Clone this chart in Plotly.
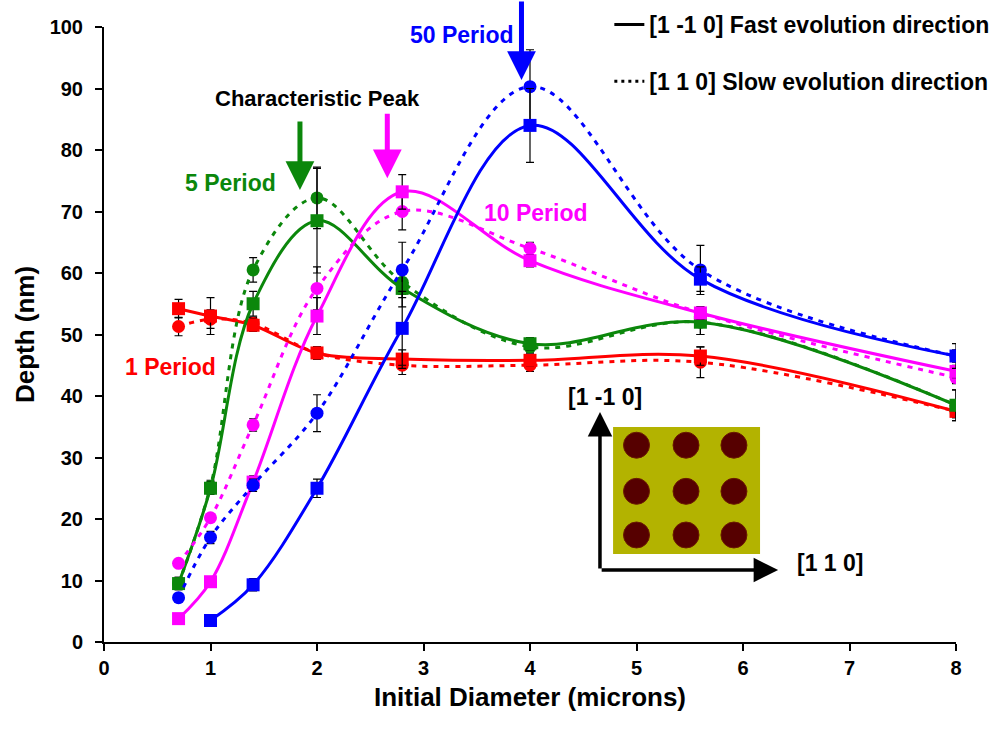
import plotly.graph_objects as go

diam = [0.7, 1.0, 1.4, 2.0, 2.8, 4.0, 5.6, 8.0]
diam_b = [1.0, 1.4, 2.0, 2.8, 4.0, 5.6, 8.0]

p1_fast = [54.2, 53.0, 51.5, 47.0, 46.0, 45.8, 46.5, 37.5]
p1_fast_err = [1.5, 3.0, 1.0, 1.0, 1.5, 1.0, 1.5, 1.0]
p1_slow = [51.3, 52.5, 51.8, 47.0, 45.0, 45.0, 45.5, 37.5]
p1_slow_err = [1.5, 1.5, 1.0, 1.0, 1.5, 1.0, 2.5, 1.0]

p5_fast = [9.5, 25.0, 55.0, 68.5, 57.5, 48.5, 52.0, 38.5]
p5_fast_err = [1.0, 1.0, 2.0, 8.5, 3.0, 1.0, 2.0, 2.5]
p5_slow = [9.5, 25.3, 60.5, 72.2, 58.5, 48.0, 52.0, 38.5]
p5_slow_err = [1.0, 1.0, 2.0, 5.0, 2.0, 1.0, 2.0, 2.5]

p10_fast = [3.8, 9.8, 26.0, 53.0, 73.2, 62.0, 53.5, 44.0]
p10_fast_err = [0.5, 0.5, 1.0, 3.0, 2.8, 1.0, 1.0, 1.0]
p10_slow = [12.8, 20.2, 35.3, 57.5, 70.0, 64.0, 53.5, 43.0]
p10_slow_err = [0.5, 0.5, 1.0, 3.5, 3.0, 1.0, 1.0, 1.0]

p50_fast = [3.5, 9.3, 25.0, 51.0, 84.0, 59.0, 46.5]
p50_fast_err = [0.5, 1.0, 1.5, 6.0, 6.0, 2.0, 1.0]
p50_slow = [7.2, 17.0, 25.5, 37.2, 60.5, 90.3, 60.5, 46.5]
p50_slow_err = [0.5, 1.0, 1.0, 3.0, 4.5, 6.0, 4.0, 2.0]

RED, GREEN, MAG, BLUE = "#ff0000", "#0b870b", "#ff00ff", "#0000ff"
FONT = "Liberation Sans, Arial, sans-serif"

fig = go.Figure()

def add(x, y, err, color, fast):
    fig.add_trace(go.Scatter(
        x=x, y=y, mode="lines+markers",
        line=dict(color=color, width=3, shape="spline", smoothing=1,
                  dash="solid" if fast else "5px,6px"),
        marker=dict(symbol="square" if fast else "circle", size=13, color=color),
        error_y=dict(type="data", array=err, color="black", thickness=1.2, width=4),
        showlegend=False))

add(diam, p1_slow, p1_slow_err, RED, False)
add(diam, p1_fast, p1_fast_err, RED, True)
add(diam, p5_slow, p5_slow_err, GREEN, False)
add(diam, p5_fast, p5_fast_err, GREEN, True)
add(diam, p10_slow, p10_slow_err, MAG, False)
add(diam, p10_fast, p10_fast_err, MAG, True)
add(diam, p50_slow, p50_slow_err, BLUE, False)
add(diam_b, p50_fast, p50_fast_err, BLUE, True)

fig.add_trace(go.Scatter(x=[None], y=[None], mode="lines", line=dict(color="black", width=3),
                         name="<b>[1 -1 0] Fast evolution direction</b>", legendgroup="a"))
fig.add_trace(go.Scatter(x=[None], y=[None], mode="lines", line=dict(color="black", width=3, dash="3px,4px"),
                         name="<b>[1 1 0] Slow evolution direction</b>", legendgroup="b"))

def txt(x, y, s, color, size=23, yref="y"):
    fig.add_annotation(x=x, y=y, yref=yref, text="<b>%s</b>" % s, showarrow=False,
                       font=dict(family=FONT, size=size, color=color))

txt(2.0, 88.3, "Characteristic Peak", "black", 22)
txt(1.19, 74.6, "5 Period", GREEN)
txt(4.06, 69.8, "10 Period", MAG)
txt(0.62, 44.7, "1 Period", RED)
txt(3.36, 1.0114, "50 Period", BLUE, 23, "paper")
txt(4.70, 39.8, "[1 -1 0]", "black")
txt(6.82, 12.8, "[1 1 0]", "black")

def arrow(x, y, ax, ay, color, w=5, s=1.15):
    fig.add_annotation(x=x, y=y, ax=ax, ay=ay, text="", showarrow=True,
                       arrowhead=2, arrowwidth=w, arrowsize=s, arrowcolor=color)

arrow(1.84, 73.5, 0, -70, GREEN)
arrow(2.66, 75.4, 0, -66, MAG)
arrow(3.92, 91.4, 0, -82, BLUE)
arrow(4.657, 37.4, 0, 158, "black", 3.5, 1.4)
arrow(6.33, 11.7, -178, 0, "black", 3.5, 1.4)

# inset: substrate with holes
fig.add_shape(type="rect", x0=4.78, x1=6.16, y0=14.3, y1=34.96, fillcolor="#b3b300",
              line=dict(width=0), layer="above")
rx, ry = 0.122, 2.11
for cx in [5.0, 5.465, 5.915]:
    for cy in [32.0, 24.5, 17.4]:
        fig.add_shape(type="circle", x0=cx - rx, x1=cx + rx, y0=cy - ry, y1=cy + ry,
                      fillcolor="#560000", line=dict(color="#6a1a00", width=1), layer="above")

fig.update_layout(
    width=995, height=736, plot_bgcolor="white", paper_bgcolor="white",
    margin=dict(l=104, r=39, t=27, b=94, autoexpand=False),
    font=dict(family=FONT, color="black"),
    legend=dict(x=1.045, xanchor="right", y=1.039, yanchor="top", bgcolor="rgba(0,0,0,0)",
                font=dict(family=FONT, size=23, color="black"), tracegroupgap=24,
                traceorder="grouped", itemwidth=30),
)

fig.update_xaxes(range=[0, 8], tickvals=[0, 1, 2, 3, 4, 5, 6, 7, 8],
                 ticktext=["<b>%d</b>" % v for v in range(9)],
                 showgrid=False, zeroline=False, showline=True, linecolor="black", linewidth=2,
                 ticks="outside", ticklen=7, tickwidth=2, tickcolor="black",
                 tickfont=dict(size=20, family=FONT),
                 title=dict(text="<b>Initial Diameter (microns)</b>", font=dict(size=26, family=FONT), standoff=10))
fig.update_yaxes(range=[0, 100], tickvals=list(range(0, 101, 10)),
                 ticktext=["<b>%d</b>" % v for v in range(0, 101, 10)],
                 showgrid=False, zeroline=False, showline=True, linecolor="black", linewidth=2,
                 ticks="outside", ticklen=7, tickwidth=2, tickcolor="black",
                 tickfont=dict(size=20, family=FONT), ticklabelstandoff=8,
                 title=dict(text="<b>Depth (nm)</b>", font=dict(size=26, family=FONT), standoff=8))

fig.write_html("out.html")
